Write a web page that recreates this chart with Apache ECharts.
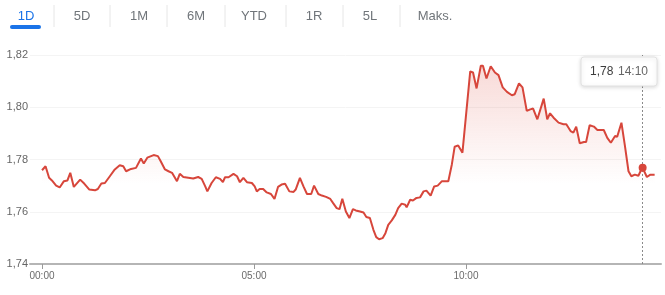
<!DOCTYPE html>
<html>
<head>
<meta charset="utf-8">
<script src="https://cdn.jsdelivr.net/npm/echarts@6/dist/echarts.min.js"></script>
<style>
html,body{margin:0;padding:0;background:#fff;}
#c{width:665px;height:295px;}
</style>
</head>
<body>
<div id="c"></div>
<script>
// Tabs
var tabs = ["1D","5D","1M","6M","YTD","1R","5L","Maks."];
var activeTab = "1D";
// Minutes after 00:00
var minutes = [0,5,10,14,20,25,31,36,40,45,54,60,67,75,79,84,89,96,103,110,115,119,126,133,140,144,149,158,164,168,174,179,184,191,195,200,207,214,221,226,231,234,240,246,252,256,259,264,271,276,280,285,290,297,301,304,308,313,318,324,329,334,339,344,350,356,359,365,370,375,381,385,391,396,402,408,412,417,421,425,430,435,440,444,450,455,459,464,469,473,477,482,486,490,495,500,504,509,514,516,521,525,530,535,540,544,550,555,560,566,575,580,584,589,595,606,610,615,621,624,629,635,641,646,652,658,665,669,675,680,686,691,695,701,710,715,719,724,731,738,742,748,752,756,761,767,770,775,781,786,795,800,805,811,814,820,825,830,834,839,844,847,850,856,861,867];
var prices = [1.7759,1.7774,1.7730,1.7720,1.7700,1.7693,1.7717,1.7720,1.7749,1.7695,1.7723,1.7707,1.7685,1.7682,1.7687,1.7708,1.7710,1.7736,1.7762,1.7778,1.7774,1.7755,1.7764,1.7768,1.7804,1.7785,1.7807,1.7817,1.7813,1.7793,1.7762,1.7755,1.7749,1.7717,1.7745,1.7733,1.7730,1.7727,1.7733,1.7726,1.7697,1.7678,1.7710,1.7732,1.7726,1.7713,1.7732,1.7732,1.7745,1.7736,1.7713,1.7730,1.7713,1.7710,1.7697,1.7678,1.7687,1.7687,1.7674,1.7668,1.7649,1.7695,1.7704,1.7707,1.7678,1.7676,1.7685,1.7730,1.7697,1.7668,1.7668,1.7700,1.7668,1.7662,1.7657,1.7649,1.7633,1.7614,1.7610,1.7650,1.7601,1.7576,1.7610,1.7605,1.7601,1.7597,1.7580,1.7576,1.7531,1.7503,1.7495,1.7499,1.7518,1.7550,1.7567,1.7588,1.7614,1.7631,1.7627,1.7617,1.7646,1.7643,1.7653,1.7655,1.7678,1.7681,1.7662,1.7697,1.7700,1.7717,1.7717,1.7781,1.7849,1.7854,1.7826,1.8137,1.8133,1.8072,1.8159,1.8159,1.8110,1.8157,1.8133,1.8123,1.8076,1.8059,1.8046,1.8050,1.8091,1.8076,1.7986,1.7992,1.7995,1.7954,1.8033,1.7954,1.7977,1.7960,1.7941,1.7935,1.7935,1.7909,1.7903,1.7926,1.7862,1.7867,1.7867,1.7931,1.7926,1.7913,1.7913,1.7883,1.7864,1.7890,1.7887,1.7941,1.7851,1.7755,1.7736,1.7742,1.7738,1.7755,1.7768,1.7733,1.7742,1.7742];
var xTickValues = [0, 300, 600];
var xTickLabels = ["00:00", "05:00", "10:00"];
var yTicks = [1.74, 1.76, 1.78, 1.80, 1.82];
var hoverMinute = 850;
var hoverLabel = "14:10";

var FONT = '"Liberation Sans", Arial, sans-serif';
var RED = '#d7463b';

var data = minutes.map(function(m, i){ return [m, prices[i]]; });
var hoverIdx = minutes.indexOf(hoverMinute);
var hoverPrice = prices[hoverIdx];

var chart = echarts.init(document.getElementById('c'), null, {renderer:'canvas'});

function fmtY(v){ return v.toFixed(2).replace('.', ','); }

var option = {
  animation: false,
  grid: {left: 30, right: 4, top: 55, bottom: 31, containLabel: false},
  xAxis: {
    type: 'value',
    min: -17,
    max: 876,
    axisLine: {show: true, lineStyle: {color: '#b5b5b5', width: 2}},
    axisTick: {show: true, customValues: xTickValues, length: 5, lineStyle: {color: '#9a9a9a', width: 1}},
    axisLabel: {
      show: true, customValues: xTickValues, color: '#6b6b6b', fontSize: 10, fontFamily: FONT, margin: 7,
      formatter: function(v){ var i = xTickValues.indexOf(v); return i >= 0 ? xTickLabels[i] : ''; }
    },
    splitLine: {show: false}
  },
  yAxis: {
    type: 'value',
    min: yTicks[0],
    max: yTicks[yTicks.length - 1],
    interval: 0.02,
    axisLine: {show: false},
    axisTick: {show: false},
    axisLabel: {color: '#666', fontSize: 11, fontFamily: FONT, margin: 2, formatter: fmtY},
    splitLine: {show: true, lineStyle: {color: '#f4f4f4', width: 1}}
  },
  series: [{
    type: 'line',
    data: data,
    showSymbol: false,
    symbol: 'none',
    lineStyle: {color: RED, width: 2},
    areaStyle: {
      origin: 'start',
      color: new echarts.graphic.LinearGradient(0, 0, 0, 1, [
        {offset: 0, color: 'rgba(219,68,55,0.28)'},
        {offset: 0.6, color: 'rgba(219,68,55,0)'},
        {offset: 1, color: 'rgba(219,68,55,0)'}
      ])
    },
    markLine: {
      silent: true,
      symbol: 'none',
      label: {show: false},
      lineStyle: {color: '#8a8a8a', type: [2, 2], width: 1},
      data: [{xAxis: hoverMinute}]
    },
    markPoint: {
      silent: true,
      symbol: 'circle',
      symbolSize: 8,
      itemStyle: {color: RED},
      label: {show: false},
      data: [{coord: [hoverMinute, hoverPrice]}]
    }
  }]
};
chart.setOption(option);

// Tabs and hover tooltip as graphic elements
var tabCenters = [26, 82, 139, 196, 254, 314, 370, 435];
var seps = [54, 110, 167, 225, 286, 343, 400];
var g = [];
tabs.forEach(function(t, i){
  g.push({
    type: 'text', x: tabCenters[i], y: 16,
    style: {text: t, fill: t === activeTab ? '#1a73e8' : '#70757a', font: '13px ' + FONT, align: 'center', verticalAlign: 'middle'}
  });
});
seps.forEach(function(x){
  g.push({type: 'line', shape: {x1: x, y1: 5, x2: x, y2: 27}, style: {stroke: '#e6e6e6', lineWidth: 1}});
});
g.push({type: 'rect', shape: {x: 10, y: 25, width: 31, height: 4, r: 2}, style: {fill: '#1a73e8'}});

var p = chart.convertToPixel({xAxisIndex: 0, yAxisIndex: 0}, [hoverMinute, hoverPrice]);
var boxW = 76, boxH = 29;
var bx = Math.round(p[0] + 14 - boxW), by = 57;
g.push({
  type: 'rect', shape: {x: bx, y: by, width: boxW, height: boxH, r: 3},
  style: {fill: '#fff', stroke: '#e2e2e2', lineWidth: 1, shadowBlur: 4, shadowColor: 'rgba(0,0,0,0.15)', shadowOffsetY: 1},
  z: 100
});
g.push({
  type: 'text', x: bx + 9, y: by + boxH / 2, z: 101,
  style: {text: fmtY(hoverPrice), fill: '#3c3c3c', font: '12px ' + FONT, verticalAlign: 'middle', align: 'left'}
});
g.push({
  type: 'text', x: bx + boxW - 9, y: by + boxH / 2, z: 101,
  style: {text: hoverLabel, fill: '#666', font: '12px ' + FONT, verticalAlign: 'middle', align: 'right'}
});
chart.setOption({graphic: g});
</script>
</body>
</html>
